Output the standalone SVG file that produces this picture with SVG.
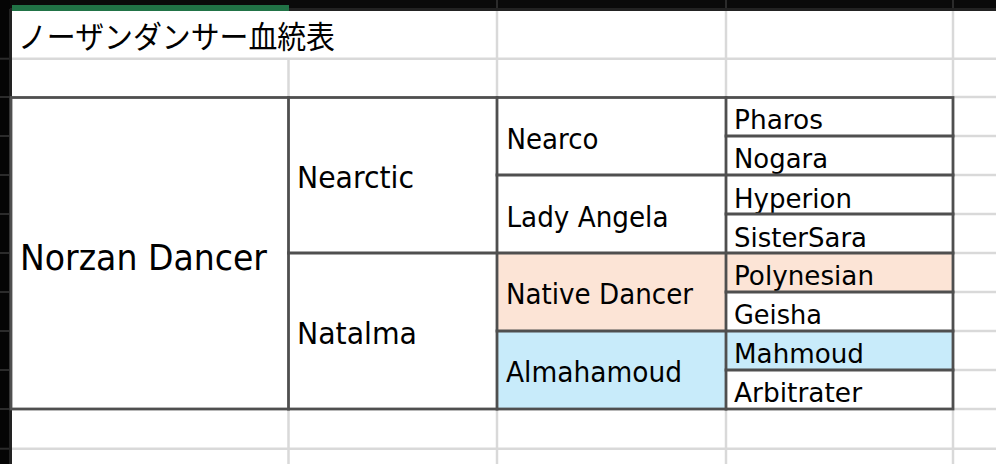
<svg xmlns="http://www.w3.org/2000/svg" width="996" height="464" viewBox="0 0 996 464">
<style>
.grid{stroke:#d9d9d9;stroke-width:2.5;fill:none}
.hdr{stroke:#2b2b2b;stroke-width:2;fill:none}
.bd{stroke:#4f4f4f;stroke-width:2.8;fill:none;stroke-linecap:square}
.t{font-family:"DejaVu Sans","Liberation Sans",sans-serif;fill:#000}
.a{font-size:35.5px}
.b{font-size:31px}
.c{font-size:28px}
.d{font-size:26.5px}
.peach{fill:#fce4d6}
.blue{fill:#c8ebfa}
</style>
<rect x="0" y="0" width="996" height="464" fill="#ffffff"/>
<g id="sheet-frame">
<rect x="0" y="0" width="996" height="9" fill="#0a0a0a"/>
<rect x="0" y="8" width="996" height="3" fill="#222222"/>
<rect x="12" y="5" width="277" height="6" fill="#217346"/>
<rect x="0" y="0" width="10" height="464" fill="#050505"/>
<rect x="9" y="9" width="3" height="455" fill="#222222"/>
<g class="hdr">
<line x1="497" y1="0" x2="497" y2="8"/>
<line x1="726" y1="0" x2="726" y2="8"/>
<line x1="953" y1="0" x2="953" y2="8"/>
<line x1="0" y1="58.7" x2="9" y2="58.7"/>
<line x1="0" y1="97" x2="9" y2="97"/>
<line x1="0" y1="136" x2="9" y2="136"/>
<line x1="0" y1="175" x2="9" y2="175"/>
<line x1="0" y1="214" x2="9" y2="214"/>
<line x1="0" y1="253" x2="9" y2="253"/>
<line x1="0" y1="292" x2="9" y2="292"/>
<line x1="0" y1="331" x2="9" y2="331"/>
<line x1="0" y1="370" x2="9" y2="370"/>
<line x1="0" y1="409" x2="9" y2="409"/>
<line x1="0" y1="448.7" x2="9" y2="448.7"/>
</g>
</g>
<g id="gridlines" class="grid">
<line x1="12" y1="58.7" x2="996" y2="58.7"/>
<line x1="953" y1="97" x2="996" y2="97"/>
<line x1="953" y1="136" x2="996" y2="136"/>
<line x1="953" y1="175" x2="996" y2="175"/>
<line x1="953" y1="214" x2="996" y2="214"/>
<line x1="953" y1="253" x2="996" y2="253"/>
<line x1="953" y1="292" x2="996" y2="292"/>
<line x1="953" y1="331" x2="996" y2="331"/>
<line x1="953" y1="370" x2="996" y2="370"/>
<line x1="953" y1="409" x2="996" y2="409"/>
<line x1="12" y1="448.7" x2="996" y2="448.7"/>
<line x1="288.5" y1="58.7" x2="288.5" y2="97"/>
<line x1="497" y1="11" x2="497" y2="97"/>
<line x1="726" y1="11" x2="726" y2="97"/>
<line x1="953" y1="11" x2="953" y2="97"/>
<line x1="288.5" y1="409" x2="288.5" y2="464"/>
<line x1="497" y1="409" x2="497" y2="464"/>
<line x1="726" y1="409" x2="726" y2="464"/>
<line x1="953" y1="409" x2="953" y2="464"/>
</g>
<g id="title">
<text x="18" y="48" font-family="'Noto Sans CJK JP','Noto Sans CJK SC',sans-serif" font-size="31" textLength="317" lengthAdjust="spacingAndGlyphs" fill="#000">ノーザンダンサー血統表</text>
</g>
<g id="norzan-dancer"><text class="t a" x="20" y="270" textLength="247" lengthAdjust="spacingAndGlyphs">Norzan Dancer</text></g>
<g id="nearctic"><text class="t b" x="297" y="188" textLength="117" lengthAdjust="spacingAndGlyphs">Nearctic</text></g>
<g id="natalma"><text class="t b" x="297" y="344" textLength="120" lengthAdjust="spacingAndGlyphs">Natalma</text></g>
<g id="nearco"><text class="t c" x="506.5" y="149" textLength="92" lengthAdjust="spacingAndGlyphs">Nearco</text></g>
<g id="lady-angela"><text class="t c" x="506.5" y="227" textLength="162" lengthAdjust="spacingAndGlyphs">Lady Angela</text></g>
<g id="native-dancer"><rect class="peach" x="497" y="253" width="229" height="78"/><text class="t c" x="506" y="304" textLength="187" lengthAdjust="spacingAndGlyphs">Native Dancer</text></g>
<g id="almahamoud"><rect class="blue" x="497" y="331" width="229" height="78"/><text class="t c" x="506" y="382" textLength="176" lengthAdjust="spacingAndGlyphs">Almahamoud</text></g>
<g id="pharos"><text class="t d" x="734" y="129" textLength="89" lengthAdjust="spacingAndGlyphs">Pharos</text></g>
<g id="nogara"><text class="t d" x="734" y="168" textLength="94" lengthAdjust="spacingAndGlyphs">Nogara</text></g>
<g id="hyperion"><text class="t d" x="734" y="207.5" textLength="118" lengthAdjust="spacingAndGlyphs">Hyperion</text></g>
<g id="sistersara"><text class="t d" x="734" y="246.5" textLength="133" lengthAdjust="spacingAndGlyphs">SisterSara</text></g>
<g id="polynesian"><rect class="peach" x="726" y="253" width="227" height="39"/><text class="t d" x="734" y="285" textLength="140" lengthAdjust="spacingAndGlyphs">Polynesian</text></g>
<g id="geisha"><text class="t d" x="734" y="323.5" textLength="88" lengthAdjust="spacingAndGlyphs">Geisha</text></g>
<g id="mahmoud"><rect class="blue" x="726" y="331" width="227" height="39"/><text class="t d" x="734" y="362.5" textLength="130" lengthAdjust="spacingAndGlyphs">Mahmoud</text></g>
<g id="arbitrater"><text class="t d" x="734" y="402" textLength="128" lengthAdjust="spacingAndGlyphs">Arbitrater</text></g>
<g id="connectors" class="bd">
<rect x="11" y="97.5" width="942" height="311.5"/>
<line x1="288.5" y1="97.5" x2="288.5" y2="409"/>
<line x1="497" y1="97.5" x2="497" y2="409"/>
<line x1="726" y1="97.5" x2="726" y2="409"/>
<line x1="288.5" y1="253" x2="953" y2="253"/>
<line x1="497" y1="175" x2="953" y2="175"/>
<line x1="497" y1="331" x2="953" y2="331"/>
<line x1="726" y1="136" x2="953" y2="136"/>
<line x1="726" y1="214" x2="953" y2="214"/>
<line x1="726" y1="292" x2="953" y2="292"/>
<line x1="726" y1="370" x2="953" y2="370"/>
</g>
</svg>
